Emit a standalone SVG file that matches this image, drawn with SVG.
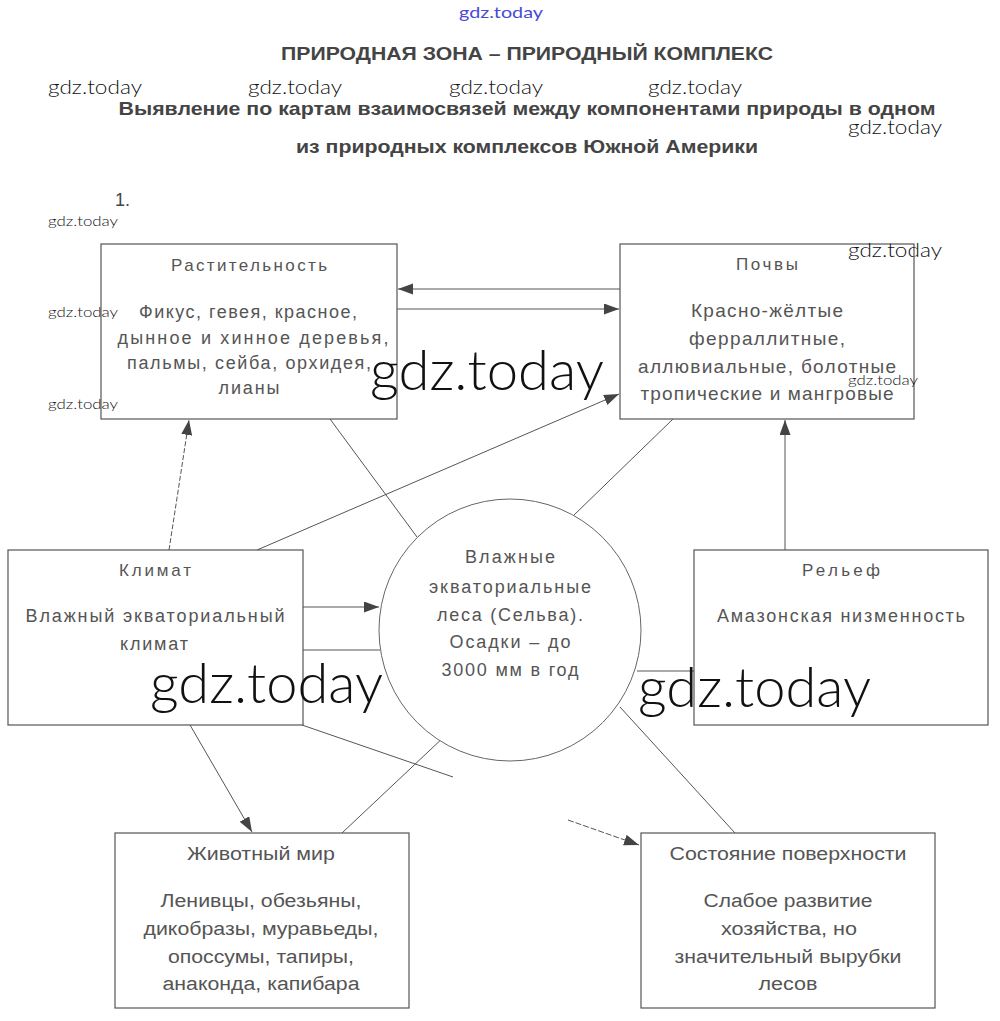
<svg xmlns="http://www.w3.org/2000/svg" width="1000" height="1021" viewBox="0 0 1000 1021">
<defs>
<marker id="ah" markerUnits="userSpaceOnUse" markerWidth="16" markerHeight="12" refX="15" refY="5.5" orient="auto">
<path d="M0,0 L15,5.5 L0,11 z" fill="#444"/>
</marker>
<style>
.box{fill:#fff;stroke:#555;stroke-width:1.2}
.ln{stroke:#555;stroke-width:1;fill:none}
.t{font-family:"Liberation Sans",Arial,sans-serif;fill:#555;text-anchor:middle;font-size:18px}
.h{font-size:17px}
.n{font-family:"Liberation Sans",Arial,sans-serif;fill:#555;text-anchor:middle;font-size:19px}
.tt{font-family:"Liberation Sans",Arial,sans-serif;fill:#444;font-weight:bold;text-anchor:middle}
.wm{font-family:Lato,"Open Sans",sans-serif;font-weight:300;fill:#111}
</style>
</defs>
<rect width="1000" height="1021" fill="#fff"/>

<text x="501" y="18" font-family="Lato,'Open Sans',sans-serif" font-size="16" fill="#4a4ad8" text-anchor="middle" textLength="84" lengthAdjust="spacingAndGlyphs">gdz.today</text>

<g id="title">
<text class="tt" x="527" y="59.5" font-size="18" textLength="492" lengthAdjust="spacingAndGlyphs">ПРИРОДНАЯ ЗОНА – ПРИРОДНЫЙ КОМПЛЕКС</text>
<text class="tt" x="527" y="114.5" font-size="18.5" textLength="817" lengthAdjust="spacingAndGlyphs">Выявление по картам взаимосвязей между компонентами природы в одном</text>
<text class="tt" x="527" y="152.5" font-size="18.5" textLength="462" lengthAdjust="spacingAndGlyphs">из природных комплексов Южной Америки</text>
<text x="115" y="206" font-family="Liberation Sans,Arial,sans-serif" font-size="18" fill="#444">1.</text>
</g>

<g id="connectors">
<line class="ln" x1="620" y1="289" x2="398" y2="289" marker-end="url(#ah)"/>
<line class="ln" x1="392" y1="309" x2="619" y2="309" marker-end="url(#ah)"/>
<line class="ln" x1="169" y1="550" x2="189" y2="420" stroke-dasharray="5,2" marker-end="url(#ah)"/>
<line class="ln" x1="330" y1="419" x2="417" y2="537"/>
<line class="ln" x1="257" y1="550" x2="619" y2="394" marker-end="url(#ah)"/>
<line class="ln" x1="573" y1="516" x2="673" y2="419"/>
<line class="ln" x1="785" y1="550" x2="785" y2="420" marker-end="url(#ah)"/>
<line class="ln" x1="302" y1="607" x2="379" y2="607" marker-end="url(#ah)"/>
<line class="ln" x1="302" y1="650" x2="380" y2="650" stroke-width="1.6" stroke="#888"/>
<line class="ln" x1="637" y1="671" x2="694" y2="671"/>
<line class="ln" x1="190" y1="725" x2="252" y2="832" marker-end="url(#ah)"/>
<line class="ln" x1="302" y1="725" x2="453" y2="777"/>
<line class="ln" x1="342" y1="833" x2="446" y2="735"/>
<line class="ln" x1="568" y1="820" x2="639" y2="845" stroke-dasharray="6,2" marker-end="url(#ah)"/>
<line class="ln" x1="620" y1="707" x2="735" y2="833"/>
</g>

<g id="rastitelnost">
<rect class="box" x="101" y="244" width="296" height="175"/>
<text class="t h" x="249" y="271" textLength="156">Растительность</text>
<text class="t" x="248" y="318" textLength="218">Фикус, гевея, красное,</text>
<text class="t" x="253" y="343.5" textLength="271">дынное и хинное деревья,</text>
<text class="t" x="249" y="369" textLength="244">пальмы, сейба, орхидея,</text>
<text class="t" x="249" y="394" textLength="61">лианы</text>
</g>

<g id="pochvy">
<rect class="box" x="620" y="244" width="294" height="175"/>
<text class="t h" x="767" y="270" textLength="62">Почвы</text>
<text class="n" x="767" y="317" textLength="152">Красно-жёлтые</text>
<text class="n" x="767" y="345" textLength="156">ферраллитные,</text>
<text class="n" x="767" y="373" textLength="258">аллювиальные, болотные</text>
<text class="n" x="767" y="400" textLength="253">тропические и мангровые</text>
</g>

<g id="klimat">
<rect class="box" x="8" y="550" width="295" height="175"/>
<text class="t h" x="155" y="575.5" textLength="72">Климат</text>
<text class="t" x="155" y="622" textLength="259">Влажный экваториальный</text>
<text class="t" x="154" y="650" textLength="68">климат</text>
</g>

<g id="relief">
<rect class="box" x="694" y="550" width="294" height="175"/>
<text class="t h" x="841" y="575.5" textLength="78">Рельеф</text>
<text class="t" x="841" y="622" textLength="248">Амазонская низменность</text>
</g>

<g id="selva">
<circle cx="510" cy="630" r="131" fill="#fff" stroke="#666" stroke-width="1"/>
<text class="t" x="510" y="563" textLength="90">Влажные</text>
<text class="t" x="510" y="593" textLength="162">экваториальные</text>
<text class="t" x="510" y="621" textLength="146">леса (Сельва).</text>
<text class="t" x="510" y="648" textLength="121">Осадки – до</text>
<text class="t" x="510" y="676" textLength="137">3000 мм в год</text>
</g>

<g id="zhivotny">
<rect class="box" x="115" y="833" width="294" height="175"/>
<text class="t" x="261" y="860" textLength="148" lengthAdjust="spacingAndGlyphs">Животный мир</text>
<text class="t" x="261" y="907" textLength="201" lengthAdjust="spacingAndGlyphs">Ленивцы, обезьяны,</text>
<text class="t" x="261" y="935" textLength="235" lengthAdjust="spacingAndGlyphs">дикобразы, муравьеды,</text>
<text class="t" x="261" y="963" textLength="186" lengthAdjust="spacingAndGlyphs">опоссумы, тапиры,</text>
<text class="t" x="261" y="990" textLength="197" lengthAdjust="spacingAndGlyphs">анаконда, капибара</text>
</g>

<g id="sostoyanie">
<rect class="box" x="641" y="833" width="294" height="175"/>
<text class="t" x="788" y="860" textLength="237" lengthAdjust="spacingAndGlyphs">Состояние поверхности</text>
<text class="t" x="788" y="907" textLength="169" lengthAdjust="spacingAndGlyphs">Слабое развитие</text>
<text class="t" x="789" y="935" textLength="136" lengthAdjust="spacingAndGlyphs">хозяйства, но</text>
<text class="t" x="788" y="963" textLength="227" lengthAdjust="spacingAndGlyphs">значительный вырубки</text>
<text class="t" x="788" y="990" textLength="59" lengthAdjust="spacingAndGlyphs">лесов</text>
</g>

<g id="watermarks">
<text class="wm" x="48" y="94" font-size="19" textLength="94" lengthAdjust="spacingAndGlyphs">gdz.today</text>
<text class="wm" x="248" y="94" font-size="19" textLength="94" lengthAdjust="spacingAndGlyphs">gdz.today</text>
<text class="wm" x="449" y="94" font-size="19" textLength="94" lengthAdjust="spacingAndGlyphs">gdz.today</text>
<text class="wm" x="648" y="94" font-size="19" textLength="94" lengthAdjust="spacingAndGlyphs">gdz.today</text>
<text class="wm" x="848" y="134" font-size="19" textLength="94" lengthAdjust="spacingAndGlyphs">gdz.today</text>
<text class="wm" x="848" y="257" font-size="19" textLength="94" lengthAdjust="spacingAndGlyphs">gdz.today</text>
<text class="wm" x="48" y="226" font-size="14" textLength="70" lengthAdjust="spacingAndGlyphs">gdz.today</text>
<text class="wm" x="48" y="317" font-size="14" textLength="70" lengthAdjust="spacingAndGlyphs">gdz.today</text>
<text class="wm" x="48" y="409" font-size="14" textLength="70" lengthAdjust="spacingAndGlyphs">gdz.today</text>
<text class="wm" x="848" y="385" font-size="14" textLength="70" lengthAdjust="spacingAndGlyphs">gdz.today</text>
<text class="wm" x="370" y="390" font-size="56" textLength="234" lengthAdjust="spacingAndGlyphs">gdz.today</text>
<text class="wm" x="150" y="703" font-size="56" textLength="233" lengthAdjust="spacingAndGlyphs">gdz.today</text>
<text class="wm" x="638" y="707" font-size="56" textLength="233" lengthAdjust="spacingAndGlyphs">gdz.today</text>
</g>
</svg>
